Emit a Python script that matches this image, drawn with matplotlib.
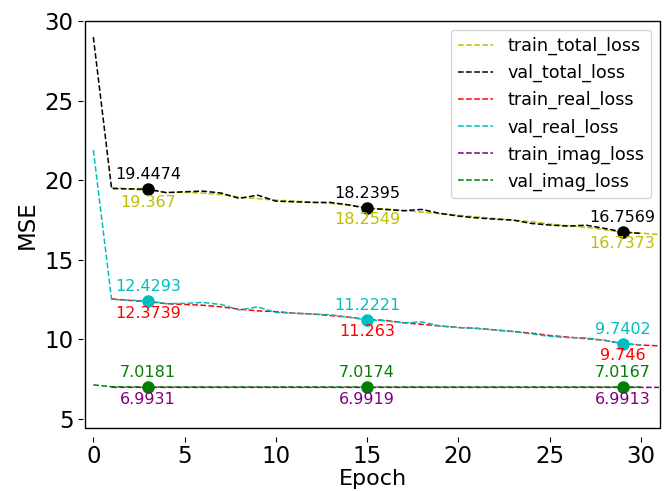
import numpy as np
from matplotlib import pyplot as plt
from matplotlib.patches import Rectangle

# val losses are logged from epoch 0, train losses from epoch 1
val_epochs = np.arange(0, 31)
train_epochs = np.arange(1, 32)

train_total = [19.55, 19.45, 19.367, 19.25, 19.25, 19.2, 19.1, 18.95, 18.85, 18.75,
               18.7, 18.62, 18.55, 18.45, 18.2549, 18.2, 18.1, 18.0, 17.9, 17.8,
               17.7, 17.6, 17.5, 17.4, 17.25, 17.15, 17.05, 16.9, 16.7373, 16.68, 16.6]
val_total = [29.0, 19.48, 19.46, 19.4474, 19.22, 19.28, 19.32, 19.2, 18.86, 19.07,
             18.69, 18.65, 18.61, 18.61, 18.45, 18.2395, 18.17, 18.09, 18.17, 17.92,
             17.75, 17.64, 17.56, 17.5, 17.29, 17.19, 17.12, 17.18, 16.98, 16.7569, 16.66]
train_real = [12.55, 12.45, 12.3739, 12.25, 12.2, 12.15, 12.05, 11.9, 11.8, 11.75,
              11.65, 11.6, 11.5, 11.4, 11.263, 11.2, 11.05, 10.95, 10.85, 10.75,
              10.7, 10.6, 10.5, 10.4, 10.25, 10.15, 10.05, 9.95, 9.746, 9.65, 9.6]
val_real = [21.9, 12.52, 12.47, 12.4293, 12.25, 12.27, 12.33, 12.2, 11.85, 12.05,
            11.7, 11.65, 11.6, 11.55, 11.4, 11.2221, 11.17, 11.05, 11.1, 10.85,
            10.75, 10.7, 10.6, 10.5, 10.35, 10.2, 10.12, 10.1, 9.95, 9.7402, 9.65]
train_imag = [6.995, 6.9935, 6.9931, 6.993, 6.9929, 6.9928, 6.9927, 6.9926, 6.9925, 6.9924,
              6.9923, 6.9922, 6.9921, 6.992, 6.9919, 6.9919, 6.9918, 6.9918, 6.9917, 6.9917,
              6.9916, 6.9916, 6.9915, 6.9915, 6.9915, 6.9914, 6.9914, 6.9914, 6.9913, 6.9913, 6.9912]
val_imag = [7.15, 7.03, 7.022, 7.0181, 7.018, 7.0179, 7.0179, 7.0178, 7.0178, 7.0177,
            7.0177, 7.0176, 7.0176, 7.0175, 7.0175, 7.0174, 7.0174, 7.0173, 7.0173, 7.0172,
            7.0172, 7.0171, 7.0171, 7.017, 7.017, 7.0169, 7.0169, 7.0168, 7.0168, 7.0167, 7.0166]

mark_epochs = [3, 15, 29]

fig = plt.figure(figsize=(6.65, 4.91), dpi=100)
ax = fig.add_axes([0.128, 0.128, 0.8645, 0.829])

ax.plot(train_epochs, train_total, '--', color='y', lw=1.1, label='train_total_loss')
ax.plot(val_epochs, val_total, '--', color='k', lw=1.1, label='val_total_loss')
ax.plot(train_epochs, train_real, '--', color='r', lw=1.1, label='train_real_loss')
ax.plot(val_epochs, val_real, '--', color='c', lw=1.1, label='val_real_loss')
ax.plot(train_epochs, train_imag, '--', color='purple', lw=1.1, label='train_imag_loss')
ax.plot(val_epochs, val_imag, '--', color='g', lw=1.1, label='val_imag_loss')

pairs = [(val_total, train_total, 'k', 'y'),
         (val_real, train_real, 'c', 'r'),
         (val_imag, train_imag, 'g', 'purple')]
for val, train, vc, tc in pairs:
    for e in mark_epochs:
        v = val[e]
        t = train[e - 1]
        ax.plot(e, v, 'o', color=vc, ms=8)
        ax.annotate(str(round(v, 4)), (e, v), xytext=(0, 5), textcoords='offset points',
                    ha='center', va='bottom', color=vc, fontsize=11.5)
        ax.annotate(str(round(t, 4)), (e, t), xytext=(0, -3), textcoords='offset points',
                    ha='center', va='top', color=tc, fontsize=11.5)

ax.set_xlim(-0.45, 31.05)
ax.set_ylim(4.43, 30)
ax.set_yticks([5, 10, 15, 20, 25, 30])
ax.set_xticks([0, 5, 10, 15, 20, 25, 30])
ax.tick_params(labelsize=16.5)
ax.tick_params(axis='x', pad=2)
ax.set_xlabel('Epoch', fontsize=16, labelpad=0.5)
ax.set_ylabel('MSE', fontsize=16.5)

# ticks sit slightly away from the frame
ax.spines['bottom'].set_position(('outward', 6.5))
ax.spines['left'].set_position(('outward', 1.5))
for s in ax.spines.values():
    s.set_visible(False)
ax.add_patch(Rectangle((0, 0), 1, 1, transform=ax.transAxes, fill=False,
                       lw=1.0, ec='black', clip_on=False, zorder=5))

ax.legend(loc='upper right', fontsize=12.7)

plt.savefig('out.png', dpi=100)
